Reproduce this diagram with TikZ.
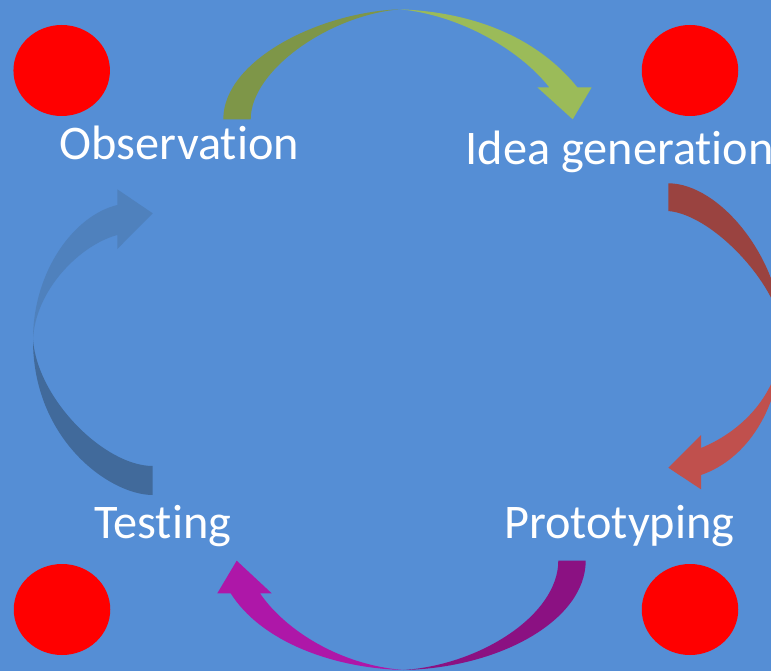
\documentclass[tikz,border=0pt]{standalone}
\usepackage{fontspec}
\setmainfont{Carlito}[Ligatures={NoCommon,NoRare}]
\usetikzlibrary{shapes.geometric}
\definecolor{bg}{HTML}{558ED5}
\definecolor{grnL}{HTML}{9BBB59}
\definecolor{grnD}{HTML}{7E9648}
\definecolor{redL}{HTML}{C0504D}
\definecolor{redD}{HTML}{9A4340}
\definecolor{purL}{HTML}{AE17A8}
\definecolor{purD}{HTML}{8B1182}
\definecolor{bluL}{HTML}{4F81BD}
\definecolor{bluD}{HTML}{416A9B}
\begin{document}
\begin{tikzpicture}[x=1pt,y=-1pt,
  lbl/.style={text=white,font=\fontsize{48.3}{58}\selectfont,inner sep=0pt,anchor=base west},
  dot/.style={ellipse,fill=red,draw=none,inner sep=0pt,minimum width=96.5pt,minimum height=91pt}]
\useasboundingbox (0,0) rectangle (771,671);
\fill[bg] (0,0) rectangle (771,671);
% red dots
\node[dot] (d1) at (61.7,70.5) {};
\node[dot] (d2) at (690,70.5) {};
\node[dot] (d3) at (690,609.5) {};
\node[dot] (d4) at (62,609.5) {};
% labels
\node[lbl] (obs) at (59.5,160) {Observation};
\node[lbl] (idea) at (465.5,165) {Idea generation};
\node[lbl] (proto) at (504,538.3) {Prototyping};
\node[lbl] (test) at (94,538.3) {Testing};
% green arrow (top)
\fill[grnD] (223.3,119.3) .. controls (223.3,60) and (320,12) .. (400,9.3)
  .. controls (330,15) and (250.7,70) .. (250.7,119.3) -- cycle;
\fill[grnL] (400,9.3) .. controls (470,12) and (535,35) .. (577.3,87.3)
  -- (591.7,87.3) -- (572.7,119.3) -- (537.3,87.3) -- (549.3,87.3)
  .. controls (520,50) and (460,15) .. (400,9.3) -- cycle;
% red arrow (right)
\fill[redD] (668.3,183.3) .. controls (720,183.3) and (782,260) .. (782,335)
  .. controls (782,290) and (715,215) .. (668.3,211) -- cycle;
\fill[redL] (782,335) .. controls (782,410) and (745,460) .. (701,475)
  -- (701,489.3) -- (668.3,467.7) -- (701,435) -- (701,448)
  .. controls (745,430) and (782,390) .. (782,335) -- cycle;
% purple arrow (bottom)
\fill[purD] (585.7,560.7) .. controls (585.7,620) and (500,668) .. (403.3,670)
  .. controls (480,665) and (558.3,615) .. (558.3,560.7) -- cycle;
\fill[purL] (403.3,670) .. controls (330,668) and (260,640) .. (230.7,593.3)
  -- (217.3,593.3) -- (236.7,560.7) -- (271.7,593.3) -- (260,593.3)
  .. controls (285,630) and (340,665) .. (403.3,670) -- cycle;
% blue arrow (left)
\fill[bluD] (152.7,495) .. controls (110,495) and (33,440) .. (33,340)
  .. controls (38,400) and (105,466) .. (152.7,466) -- cycle;
\fill[bluL] (33,340) .. controls (33,270) and (75,215) .. (117.3,205)
  -- (117.3,189.3) -- (152.7,213.3) -- (117.3,249) -- (117.3,235)
  .. controls (80,245) and (35,290) .. (33,340) -- cycle;
\end{tikzpicture}
\end{document}
